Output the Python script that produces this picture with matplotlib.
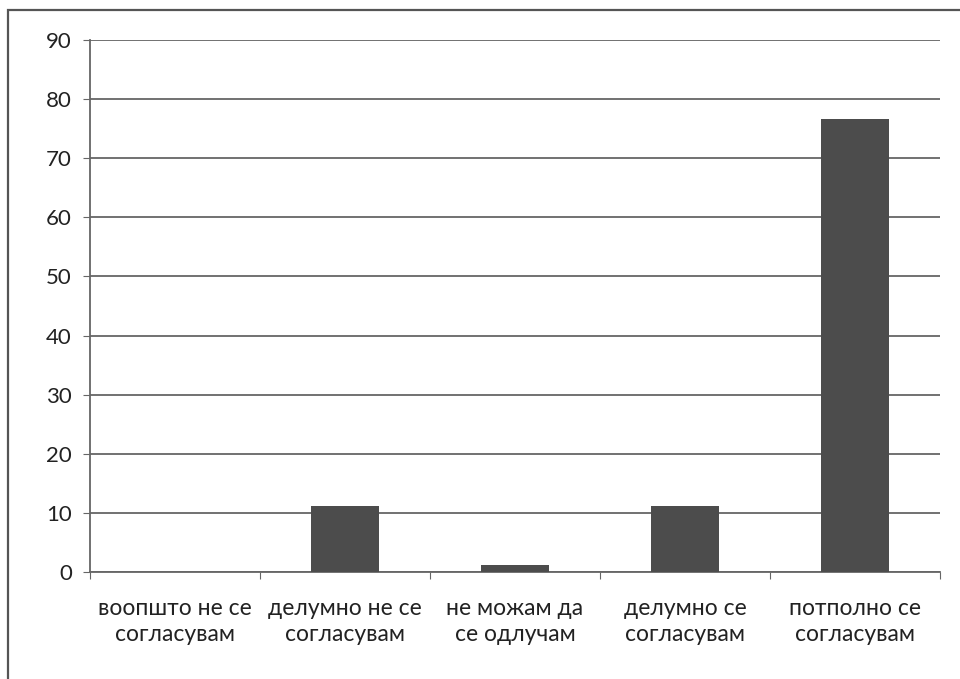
import numpy as np
import matplotlib.pyplot as plt
from matplotlib.patches import Rectangle

# response categories and share of answers (%)
categories = ['воопшто не се\nсогласувам', 'делумно не се\nсогласувам',
              'не можам да\nсе одлучам', 'делумно се\nсогласувам',
              'потполно се\nсогласувам']
values = [0, 11.1, 1.1, 11.1, 76.7]
yticks = [0, 10, 20, 30, 40, 50, 60, 70, 80, 90]

plt.rcParams['font.family'] = ['Lato', 'DejaVu Sans']

fig = plt.figure(figsize=(9.6, 6.79), dpi=100)
ax = fig.add_axes([90/960, 1-572/679, 850/960, 532/679])

# outer chart border
fig.patches.append(Rectangle((8/960, -0.1), 1.1, 1-10/679+0.1, transform=fig.transFigure,
                             fill=False, edgecolor='#555555', linewidth=1.6))

x = np.arange(len(categories))
ax.bar(x, values, width=0.4, color='#4c4c4c', zorder=3)

ax.set_xlim(-0.5, len(categories)-0.5)
ax.set_ylim(0, 90)
ax.set_yticks(yticks)
ax.tick_params(axis='y', labelsize=16, length=5, color='#666666', pad=8,
               labelcolor='#222222')
ax.yaxis.grid(True, color='#666666', linewidth=1.3, zorder=0)

# tick marks at category boundaries, labels centred under each bar
ax.set_xticks(np.arange(len(categories)+1)-0.5)
ax.set_xticklabels([])
ax.tick_params(axis='x', length=5, color='#666666')
ax.set_xticks(x, minor=True)
ax.set_xticklabels(categories, minor=True, fontsize=16.5, linespacing=1.3,
                   color='#222222')
ax.tick_params(axis='x', which='minor', length=0, pad=19)

for s in ['top', 'right']:
    ax.spines[s].set_visible(False)
for s in ['left', 'bottom']:
    ax.spines[s].set_color('#666666')
    ax.spines[s].set_linewidth(1.3)

fig.savefig('out.png', dpi=100)
